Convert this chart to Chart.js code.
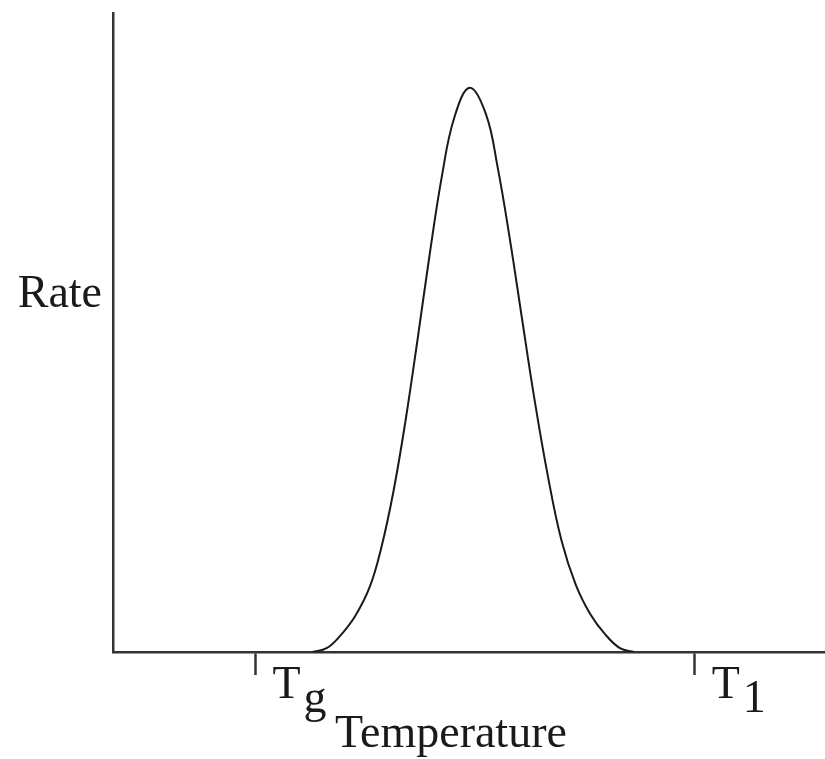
<html>

<head>
    <title>Rate vs Temperature</title>
    <script src="https://cdn.jsdelivr.net/npm/chart.js@4.4.0/dist/chart.umd.min.js"></script>
    <style>
        body { margin: 0; background: #fff; }
        #wrap { width: 825px; height: 759px; position: relative; }
    </style>
</head>

<body>
    <div id="wrap"><canvas id="plotCanvas"></canvas></div>
    <script>
        // curve (temperature, rate), arbitrary units 0..100
        const temps = [28.0, 30.0, 31.8, 34.0, 36.1, 37.7, 39.4, 41.1, 42.8, 44.5, 46.2, 47.9, 50.1,
            52.4, 54.0, 55.7, 57.4, 59.1, 61.1, 63.0, 65.0, 67.0, 69.1, 71.2, 73.2]
        const rates = [0, 0.6, 2.4, 5.6, 10.3, 16.4, 25.2, 36.3, 49.1, 62.4, 74.5, 83.5, 88.3,
            84.1, 76.0, 64.9, 52.5, 40.2, 27.4, 17.4, 10.5, 6.0, 2.8, 0.6, 0]

        const xTickValues = [20, 81.7]
        const xTickLabels = [['T', 'g'], ['T', '1']]
        const xTitle = 'Temperature'
        const yTickValues = [55.9]
        const yLabel = 'Rate'

        const ink = '#1a1a1a'
        const serif = '"Liberation Serif", "DejaVu Serif", serif'

        // ========= subscripted tick labels + axis title ==========
        const xLabels = {
            id: 'xLabels',
            afterDraw(chart) {
                const { ctx, scales: { x }, chartArea } = chart
                ctx.save()
                ctx.fillStyle = ink
                ctx.font = '46px ' + serif
                ctx.textBaseline = 'alphabetic'
                ctx.textAlign = 'left'
                xTickValues.forEach((v, i) => {
                    const px = x.getPixelForValue(v)
                    const [main, sub] = xTickLabels[i]
                    ctx.fillText(main, px + 17, x.top + 46)
                    const w = ctx.measureText(main).width
                    ctx.fillText(sub, px + 17 + w + 3, x.top + 60)
                })
                ctx.textAlign = 'center'
                ctx.fillText(xTitle, (chartArea.left + chartArea.right) / 2 - 18, x.top + 95)
                ctx.restore()
            }
        }

        const canvas = document.getElementById('plotCanvas')
        new Chart(canvas, {
            type: 'scatter',
            data: {
                datasets: [{
                    data: temps.map((t, i) => ({ x: t, y: rates[i] })),
                    showLine: true,
                    borderColor: ink,
                    borderWidth: 2,
                    pointRadius: 0,
                    tension: 0.4,
                }],
            },
            options: {
                animation: false,
                responsive: true,
                maintainAspectRatio: false,
                layout: { padding: { top: 13, left: 0, right: 0, bottom: 0 } },
                plugins: { legend: { display: false }, tooltip: { enabled: false } },
                scales: {
                    x: {
                        type: 'linear',
                        min: 0,
                        max: 100,
                        afterBuildTicks: s => { s.ticks = xTickValues.map(v => ({ value: v })) },
                        afterFit: s => { s.height = 107; s.paddingLeft = 0; s.paddingRight = 0 },
                        ticks: { display: false },
                        grid: {
                            display: true,
                            drawOnChartArea: false,
                            drawTicks: true,
                            tickLength: 23,
                            tickWidth: 2.5,
                            tickColor: '#333',
                        },
                        border: { display: true, color: '#333', width: 2.5 },
                    },
                    y: {
                        type: 'linear',
                        min: 0,
                        max: 100,
                        afterBuildTicks: s => { s.ticks = yTickValues.map(v => ({ value: v })) },
                        afterFit: s => { s.width = 113; s.paddingTop = 0; s.paddingBottom = 0 },
                        ticks: {
                            callback: () => yLabel,
                            color: ink,
                            padding: 11,
                            font: { family: serif, size: 46 },
                        },
                        grid: { display: false, drawTicks: false },
                        border: { display: true, color: '#333', width: 2.5 },
                    },
                },
            },
            plugins: [xLabels],
        })
    </script>
</body>

</html>
